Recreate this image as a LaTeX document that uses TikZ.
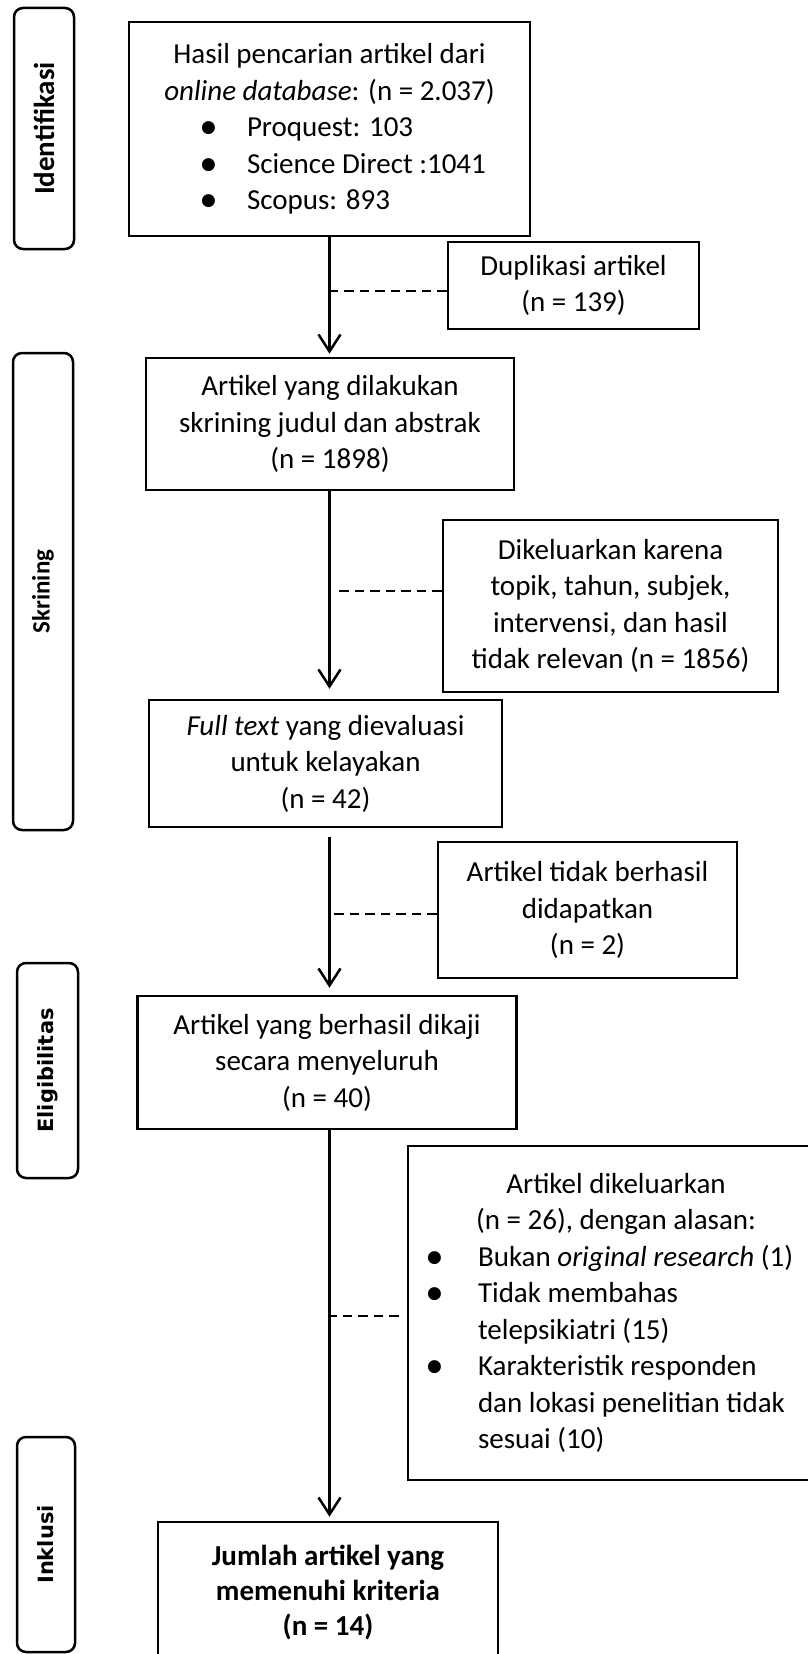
\documentclass[tikz,border=0pt]{standalone}
\usepackage{fontspec}
\setmainfont{Carlito}
\newfontfamily\verdbold{DejaVu Sans Bold}
\newfontfamily\dotfont{DejaVu Sans}
\usetikzlibrary{arrows.meta}

\newcommand{\bulitem}[3]{\makebox[#1][l]{\makebox[#2][l]{\raisebox{4pt}{\dotfont\fontsize{17}{17}\selectfont ●}}#3}}
\newcommand{\contitem}[3]{\makebox[#1][l]{\hspace{#2}#3}}

\begin{document}
\begin{tikzpicture}[x=1pt, y=-1pt,
    prismabox/.style={draw, line width=2.5pt, inner sep=0pt, align=center,
        font=\fontsize{29}{36.5}\selectfont},
    phasebox/.style={draw, line width=2.5pt, rounded corners=9pt, inner sep=0pt, rotate=90},
    flowarrow/.style={-{Straight Barb[length=17pt,width=22pt,line width=2.5pt]}, line width=2.5pt},
    excldash/.style={dashed, dash pattern=on 9.5pt off 6pt, line width=2.3pt}]
    \useasboundingbox (0,0) rectangle (808,1654);
    \clip (0,0) rectangle (808,1654);

    % Phases on the left
    \node[phasebox, minimum width=241pt, minimum height=60pt] (identifikasi) at (44,128.5)
        {\fontsize{29}{30}\selectfont\bfseries Identifikasi};
    \node[phasebox, minimum width=477pt, minimum height=60pt] (skrining) at (43,591.5)
        {\fontsize{25}{27}\selectfont\bfseries Skrining};
    \node[phasebox, minimum width=215pt, minimum height=61pt] (eligibilitas) at (47.5,1070.5)
        {\verdbold\fontsize{21}{23}\selectfont Eligibilitas};
    \node[phasebox, minimum width=215pt, minimum height=58pt] (inklusi) at (46,1544.5)
        {\verdbold\fontsize{21}{23}\selectfont Inklusi};

    % Main flow
    \node[prismabox, minimum width=401pt, minimum height=214pt] (search) at (329.5,129) {
        Hasil pencarian artikel dari\\
        \textit{online database}: (n = 2.037)\\
        \bulitem{257pt}{46pt}{Proquest: 103}\\
        \bulitem{257pt}{46pt}{Science Direct :1041}\\
        \bulitem{257pt}{46pt}{Scopus: 893}
    };
    \node[prismabox, minimum width=368pt, minimum height=132pt] (screen) at (330,424) {
        Artikel yang dilakukan\\ skrining judul dan abstrak\\ (n = 1898)
    };
    \node[prismabox, minimum width=353pt, minimum height=127pt] (fulltext) at (325.5,763.5) {
        \textit{Full text} yang dievaluasi\\ untuk kelayakan\\ (n = 42)
    };
    \node[prismabox, minimum width=379pt, minimum height=133pt] (assessed) at (327,1062.5) {
        Artikel yang berhasil dikaji\\ secara menyeluruh\\ (n = 40)
    };
    \node[prismabox, minimum width=340pt, minimum height=140pt, font=\fontsize{29}{35}\selectfont\bfseries] (included) at (328,1592) {
        Jumlah artikel yang\\ memenuhi kriteria\\ (n = 14)
    };

    % Excluded records
    \node[prismabox, minimum width=251pt, minimum height=87pt] (duplicates) at (573.5,285.5) {
        Duplikasi artikel\\ (n = 139)
    };
    \node[prismabox, minimum width=335pt, minimum height=172pt] (excltitle) at (610.5,606) {
        Dikeluarkan karena\\ topik, tahun, subjek,\\ intervensi, dan hasil\\ tidak relevan (n = 1856)
    };
    \node[prismabox, minimum width=299pt, minimum height=136pt] (notfound) at (587.5,910) {
        Artikel tidak berhasil\\ didapatkan\\ (n = 2)
    };
    \node[prismabox, minimum width=416pt, minimum height=334pt] (exclfull) at (616,1313) {
        Artikel dikeluarkan\\
        (n = 26), dengan alasan:\\
        \bulitem{378pt}{51pt}{Bukan \textit{original research} (1)}\\
        \bulitem{378pt}{51pt}{Tidak membahas}\\
        \contitem{378pt}{51pt}{telepsikiatri (15)}\\
        \bulitem{378pt}{51pt}{Karakteristik responden}\\
        \contitem{378pt}{51pt}{dan lokasi penelitian tidak}\\
        \contitem{378pt}{51pt}{sesuai (10)}
    };

    % Arrows
    \draw[flowarrow, shorten >=3pt] (search.south) -- (search.south |- screen.north);
    \draw[flowarrow, shorten >=10pt] (search.south |- screen.south) -- (search.south |- fulltext.north);
    \draw[flowarrow, shorten <=9pt, shorten >=7pt] (search.south |- fulltext.south) -- (search.south |- assessed.north);
    \draw[flowarrow, shorten >=4pt] (search.south |- assessed.south) -- (search.south |- included.north);

    % Dashed links to the excluded boxes
    \draw[excldash] ([yshift=-5.5pt]duplicates.west) -- ([yshift=-5.5pt]duplicates.west -| search.south);
    \draw[excldash, shorten >=9pt] ([yshift=15pt]excltitle.west) -- ([yshift=15pt]excltitle.west -| search.south);
    \draw[excldash] ([yshift=-4pt]notfound.west) -- ([yshift=-4pt]notfound.west -| search.south);
    \draw[excldash, shorten <=8pt] ([yshift=-3pt]exclfull.west) -- ([yshift=-3pt]exclfull.west -| search.south);
\end{tikzpicture}
\end{document}
